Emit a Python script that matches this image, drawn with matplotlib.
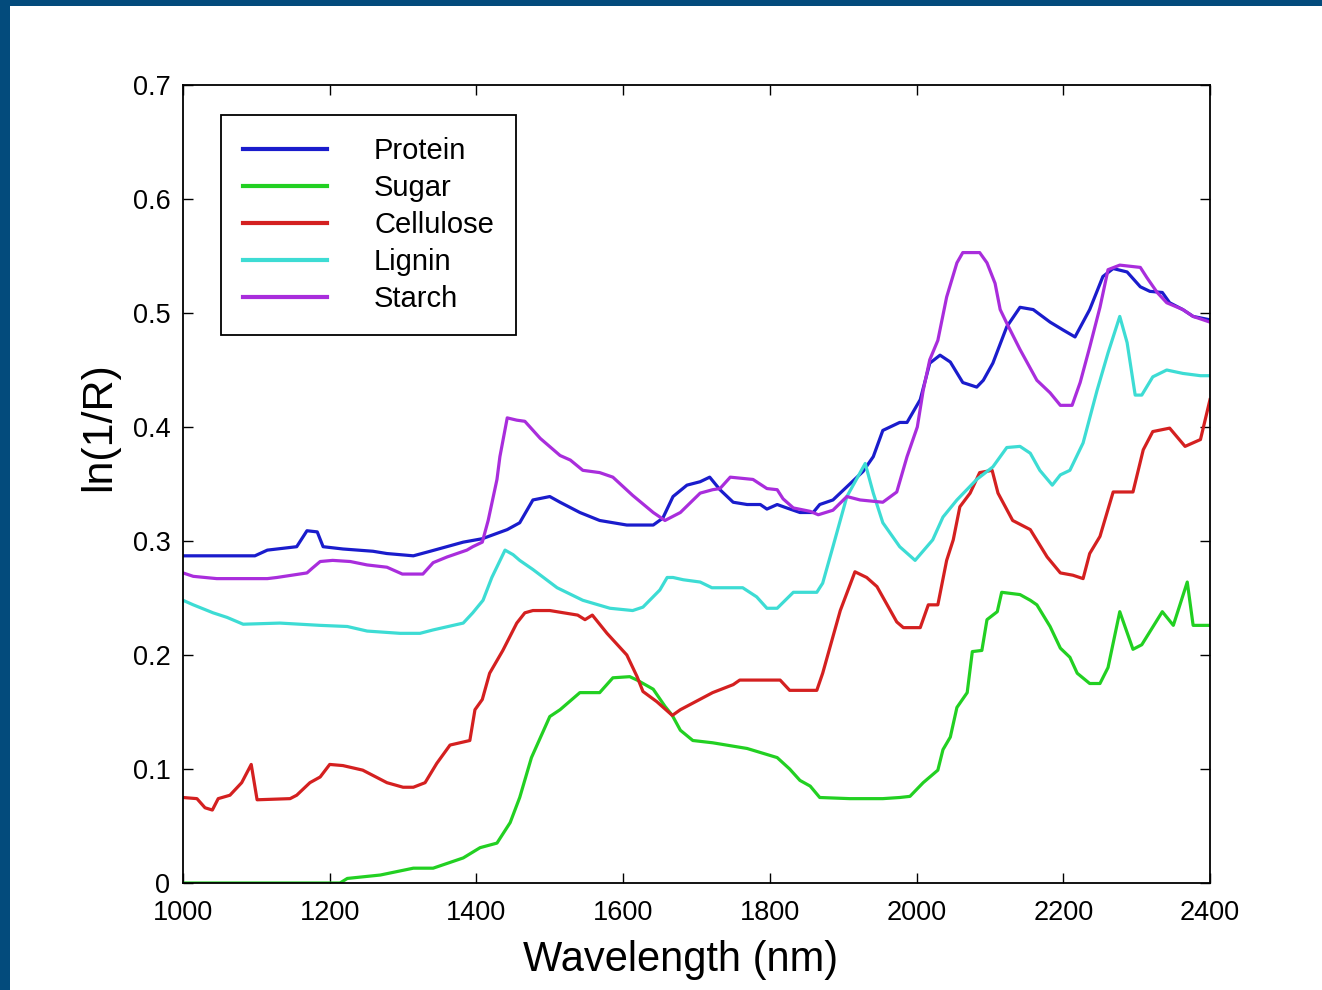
import matplotlib
matplotlib.use("Agg")
import matplotlib.pyplot as plt
from matplotlib.patches import Rectangle

plt.rcParams['font.family'] = ['Liberation Sans', 'DejaVu Sans']

# NIR spectra of plant constituents, ln(1/R) vs wavelength
protein_wl = [1000, 1098, 1115, 1155, 1169, 1183, 1191, 1218, 1259, 1278, 1314, 1337, 1382, 1408,
              1442, 1459, 1477, 1500, 1514, 1541, 1568, 1605, 1641, 1654, 1668, 1687, 1705, 1718,
              1732, 1750, 1769, 1787, 1796, 1810, 1823, 1841, 1859, 1868, 1886, 1909, 1927, 1941,
              1954, 1977, 1987, 2005, 2018, 2032, 2046, 2063, 2082, 2091, 2104, 2123, 2141, 2159,
              2182, 2200, 2216, 2236, 2254, 2268, 2287, 2305, 2318, 2335, 2345, 2363, 2377, 2400]
protein = [0.287, 0.287, 0.292, 0.295, 0.309, 0.308, 0.295, 0.293, 0.291, 0.289, 0.287, 0.291, 0.299, 0.302,
           0.310, 0.316, 0.336, 0.339, 0.334, 0.325, 0.318, 0.314, 0.314, 0.320, 0.339, 0.349, 0.352, 0.356,
           0.345, 0.334, 0.332, 0.332, 0.328, 0.332, 0.329, 0.325, 0.325, 0.332, 0.336, 0.350, 0.361, 0.374,
           0.397, 0.404, 0.404, 0.424, 0.456, 0.463, 0.457, 0.439, 0.435, 0.441, 0.456, 0.488, 0.505, 0.503,
           0.492, 0.485, 0.479, 0.503, 0.532, 0.539, 0.536, 0.523, 0.519, 0.518, 0.509, 0.503, 0.497, 0.494]

sugar_wl = [1000, 1214, 1224, 1269, 1314, 1341, 1382, 1405, 1428, 1446, 1459, 1475, 1500, 1514, 1541,
            1568, 1586, 1609, 1619, 1641, 1657, 1667, 1678, 1695, 1722, 1769, 1810, 1827, 1841, 1855,
            1868, 1909, 1954, 1977, 1991, 2009, 2029, 2036, 2046, 2055, 2069, 2076, 2089, 2096, 2110,
            2116, 2141, 2155, 2164, 2182, 2196, 2209, 2219, 2236, 2250, 2261, 2277, 2295, 2307, 2335,
            2350, 2369, 2377, 2400]
sugar = [0.0, 0.0, 0.004, 0.007, 0.013, 0.013, 0.022, 0.031, 0.035, 0.053, 0.075, 0.110, 0.146, 0.152, 0.167,
         0.167, 0.180, 0.181, 0.178, 0.170, 0.155, 0.147, 0.134, 0.125, 0.123, 0.118, 0.110, 0.100, 0.090, 0.085,
         0.075, 0.074, 0.074, 0.075, 0.076, 0.088, 0.099, 0.117, 0.128, 0.154, 0.167, 0.203, 0.204, 0.231, 0.238,
         0.255, 0.253, 0.248, 0.244, 0.225, 0.206, 0.198, 0.184, 0.175, 0.175, 0.189, 0.238, 0.205, 0.209, 0.238,
         0.226, 0.264, 0.226, 0.226]

cellulose_wl = [1000, 1019, 1030, 1040, 1048, 1064, 1080, 1093, 1101, 1146, 1155, 1173, 1187, 1200, 1218,
                1245, 1278, 1300, 1314, 1330, 1346, 1364, 1391, 1398, 1408, 1418, 1436, 1455, 1466, 1477,
                1500, 1538, 1548, 1558, 1578, 1605, 1619, 1627, 1646, 1667, 1678, 1722, 1750, 1759, 1814,
                1827, 1864, 1872, 1896, 1916, 1932, 1946, 1973, 1982, 2005, 2016, 2029, 2041, 2050, 2059,
                2073, 2086, 2103, 2111, 2131, 2155, 2178, 2196, 2213, 2227, 2236, 2250, 2268, 2295, 2309,
                2322, 2345, 2366, 2387, 2400]
cellulose = [0.075, 0.074, 0.066, 0.064, 0.074, 0.077, 0.088, 0.104, 0.073, 0.074, 0.077, 0.088, 0.093, 0.104, 0.103,
             0.099, 0.088, 0.084, 0.084, 0.088, 0.105, 0.121, 0.125, 0.152, 0.161, 0.184, 0.204, 0.228, 0.237, 0.239,
             0.239, 0.235, 0.231, 0.235, 0.219, 0.200, 0.181, 0.168, 0.159, 0.147, 0.152, 0.167, 0.174, 0.178, 0.178,
             0.169, 0.169, 0.184, 0.239, 0.273, 0.268, 0.260, 0.229, 0.224, 0.224, 0.244, 0.244, 0.283, 0.301, 0.330,
             0.342, 0.360, 0.362, 0.342, 0.318, 0.310, 0.286, 0.272, 0.270, 0.267, 0.289, 0.304, 0.343, 0.343, 0.380,
             0.396, 0.399, 0.383, 0.389, 0.424]

lignin_wl = [1000, 1014, 1041, 1060, 1082, 1132, 1187, 1224, 1251, 1296, 1323, 1341, 1382, 1395, 1409,
             1421, 1439, 1450, 1459, 1477, 1510, 1545, 1582, 1613, 1627, 1650, 1660, 1668, 1682, 1705,
             1721, 1763, 1782, 1796, 1810, 1832, 1864, 1872, 1886, 1905, 1930, 1941, 1954, 1977, 1998,
             2022, 2036, 2055, 2082, 2104, 2123, 2141, 2155, 2168, 2185, 2196, 2209, 2227, 2246, 2261,
             2277, 2287, 2298, 2307, 2322, 2341, 2363, 2387, 2400]
lignin = [0.248, 0.244, 0.237, 0.233, 0.227, 0.228, 0.226, 0.225, 0.221, 0.219, 0.219, 0.222, 0.228, 0.237, 0.248,
          0.268, 0.292, 0.288, 0.283, 0.275, 0.259, 0.248, 0.241, 0.239, 0.242, 0.257, 0.268, 0.268, 0.266, 0.264,
          0.259, 0.259, 0.251, 0.241, 0.241, 0.255, 0.255, 0.263, 0.295, 0.339, 0.368, 0.342, 0.316, 0.295, 0.283,
          0.301, 0.321, 0.336, 0.354, 0.365, 0.382, 0.383, 0.377, 0.362, 0.349, 0.358, 0.362, 0.386, 0.432, 0.465,
          0.497, 0.474, 0.428, 0.428, 0.444, 0.450, 0.447, 0.445, 0.445]

starch_wl = [1000, 1014, 1046, 1115, 1128, 1169, 1176, 1187, 1204, 1228, 1251, 1278, 1299, 1327, 1341,
             1360, 1387, 1395, 1408, 1416, 1428, 1432, 1442, 1455, 1466, 1487, 1514, 1528, 1545, 1568,
             1586, 1613, 1641, 1657, 1678, 1705, 1722, 1732, 1746, 1777, 1796, 1810, 1818, 1832, 1855,
             1866, 1886, 1905, 1923, 1954, 1973, 1987, 2001, 2009, 2018, 2029, 2041, 2055, 2063, 2086,
             2096, 2107, 2114, 2123, 2141, 2164, 2182, 2196, 2212, 2223, 2236, 2250, 2261, 2277, 2305,
             2314, 2328, 2341, 2363, 2377, 2400]
starch = [0.272, 0.269, 0.267, 0.267, 0.268, 0.272, 0.276, 0.282, 0.283, 0.282, 0.279, 0.277, 0.271, 0.271, 0.281,
          0.286, 0.292, 0.295, 0.299, 0.318, 0.354, 0.374, 0.408, 0.406, 0.405, 0.390, 0.375, 0.371, 0.362, 0.360,
          0.356, 0.340, 0.325, 0.318, 0.325, 0.342, 0.345, 0.346, 0.356, 0.354, 0.346, 0.345, 0.337, 0.329, 0.326,
          0.323, 0.327, 0.339, 0.336, 0.334, 0.343, 0.374, 0.400, 0.432, 0.459, 0.476, 0.514, 0.544, 0.553, 0.553,
          0.544, 0.526, 0.503, 0.491, 0.468, 0.441, 0.430, 0.419, 0.419, 0.439, 0.470, 0.505, 0.538, 0.542, 0.540,
          0.531, 0.518, 0.509, 0.503, 0.497, 0.492]

names = ['Protein', 'Sugar', 'Cellulose', 'Lignin', 'Starch']
colors = ['#1a1ccc', '#22d022', '#d42020', '#3ddcd4', '#a92ddc']

fig = plt.figure(figsize=(13.22, 9.90), dpi=100)
fig.patch.set_facecolor('white')
# dark frame strips on top and left
fig.patches.append(Rectangle((0, 0), 10 / 1322, 1, transform=fig.transFigure,
                             facecolor='#034b7c', edgecolor='none', zorder=-1))
fig.patches.append(Rectangle((0, 1 - 6 / 990), 1, 6 / 990, transform=fig.transFigure,
                             facecolor='#034b7c', edgecolor='none', zorder=-1))

ax = fig.add_axes([183 / 1322, 107 / 990, 1027 / 1322, 798 / 990])

series = [(protein_wl, protein), (sugar_wl, sugar), (cellulose_wl, cellulose),
          (lignin_wl, lignin), (starch_wl, starch)]
for (wl, vals), name, c in zip(series, names, colors):
    ax.plot(wl, vals, color=c, lw=2.3, label=name, solid_joinstyle='round')

ax.set_xlim(1000, 2400)
ax.set_ylim(0, 0.7)
ax.set_xticks(range(1000, 2401, 200))
ax.set_yticks([0, 0.1, 0.2, 0.3, 0.4, 0.5, 0.6, 0.7])
ax.set_yticklabels(['0', '0.1', '0.2', '0.3', '0.4', '0.5', '0.6', '0.7'])
ax.tick_params(direction='in', length=7, width=1, top=True, right=True,
               labelsize=19.5, colors='black')
ax.tick_params(axis='x', pad=12)
ax.tick_params(axis='y', pad=9)
for s in ax.spines.values():
    s.set_linewidth(1.3)

ax.set_xlabel('Wavelength (nm)', fontsize=30)
ax.set_ylabel('ln(1/R)', fontsize=31)
ax.xaxis.set_label_coords(0.484, -0.071)
ax.yaxis.set_label_coords(-0.062, 0.572)

leg = ax.legend(loc='upper left', bbox_to_anchor=(0.037, 0.9624), borderaxespad=0,
                fontsize=21, handlelength=2.9, handletextpad=1.6, labelspacing=0.31,
                borderpad=0.75, fancybox=False, framealpha=1, edgecolor='black')
leg.get_frame().set_linewidth(1.3)
for line in leg.get_lines():
    line.set_linewidth(3)

fig.savefig('out.png', dpi=100, facecolor=fig.get_facecolor())
